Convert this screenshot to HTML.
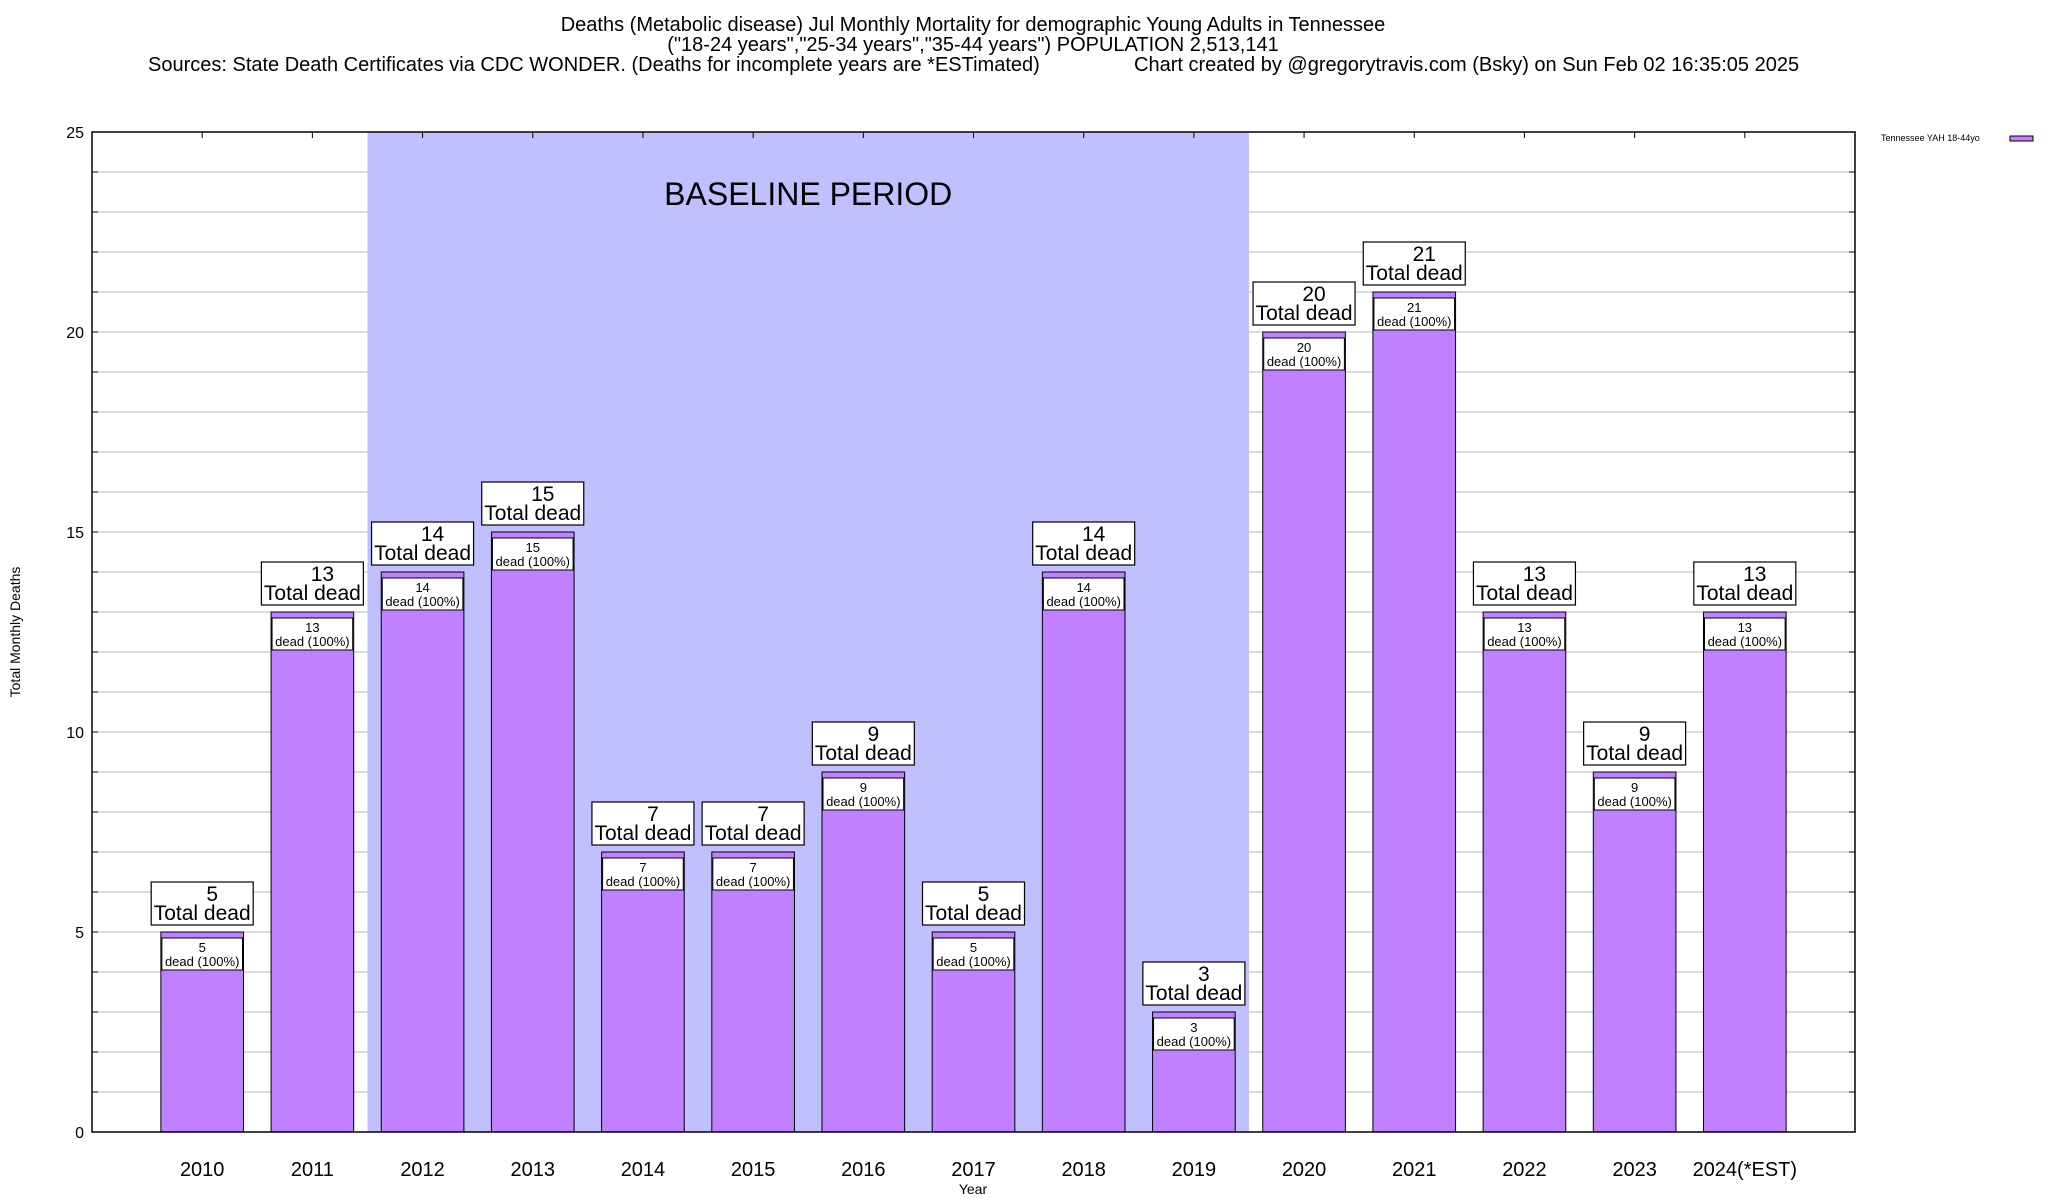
<!DOCTYPE html>
<html><head><meta charset="utf-8"><style>
html,body{margin:0;padding:0;background:#fff;}
svg{display:block;font-family:"Liberation Sans",Arial,sans-serif;}
</style></head><body>
<svg id="chart" width="2048" height="1200" viewBox="0 0 2048 1200" xmlns="http://www.w3.org/2000/svg">
<rect x="0" y="0" width="2048" height="1200" fill="#fff"/>
<g font-size="20" fill="#000">
<text x="973" y="31" text-anchor="middle">Deaths (Metabolic disease) Jul Monthly Mortality for demographic Young Adults in Tennessee</text>
<text x="973" y="51" text-anchor="middle">("18-24 years","25-34 years","35-44 years") POPULATION 2,513,141</text>
<text x="148" y="71">Sources: State Death Certificates via CDC WONDER. (Deaths for incomplete years are *ESTimated)</text>
<text x="1134" y="71">Chart created by @gregorytravis.com (Bsky) on Sun Feb 02 16:35:05 2025</text>
</g>
<g id="grid"></g>
<g id="baseline"></g>
<g id="bars"></g>
<g id="axes"></g>
<text x="20" y="632" font-size="14" text-anchor="middle" transform="rotate(-90 20 632)">Total Monthly Deaths</text>
<text x="973" y="1194" font-size="14" text-anchor="middle">Year</text>
<g>
<text x="1881" y="141" font-size="9">Tennessee YAH 18-44yo</text>
<rect x="2010" y="136" width="23" height="5" fill="#c080ff" stroke="#000" stroke-width="1"/>
</g>
</svg>
<script>
const categories = ["2010","2011","2012","2013","2014","2015","2016","2017","2018","2019","2020","2021","2022","2023","2024(*EST)"];
const deaths = [5,13,14,15,7,7,9,5,14,3,20,21,13,9,13];
const yTicks = [0,5,10,15,20,25];
const baselineRange = [1.5, 9.5];

const NS = "http://www.w3.org/2000/svg";
const L = 92, R = 1855, T = 132, B = 1132;
const xMin = -1, xMax = 15, yMin = 0, yMax = 25;
function xs(v){ return L + (v - xMin) / (xMax - xMin) * (R - L); }
function ys(v){ return B - (v - yMin) / (yMax - yMin) * (B - T); }
function mk(tag, attrs, parent){
  const e = document.createElementNS(NS, tag);
  for (const k in attrs) e.setAttribute(k, attrs[k]);
  parent.appendChild(e); return e;
}
const grid = document.getElementById('grid');
const axes = document.getElementById('axes');
const base = document.getElementById('baseline');
const bars = document.getElementById('bars');

const br = mk('rect', {x: xs(baselineRange[0]), y: T, width: xs(baselineRange[1]) - xs(baselineRange[0]), height: B - T, fill: '#c0c0ff'}, base);


const bt = mk('text', {x: (xs(baselineRange[0]) + xs(baselineRange[1])) / 2, y: 205, 'font-size': 32, 'text-anchor': 'middle'}, base);
bt.textContent = 'BASELINE PERIOD';



for (let v = yMin + 1; v < yMax; v++) {
  const g = mk('line', {x1: L, x2: R, y1: ys(v), y2: ys(v), stroke: '#b8b8b8', 'stroke-width': 1}, grid);
  
  
  mk('line', {x1: L, x2: L + 6, y1: ys(v), y2: ys(v), stroke: '#000'}, axes);
  mk('line', {x1: R, x2: R - 6, y1: ys(v), y2: ys(v), stroke: '#000'}, axes);
}
yTicks.forEach(v => {
  const t = mk('text', {x: 84, y: ys(v) + 6, 'font-size': 16, 'text-anchor': 'end'}, axes);
  t.textContent = v;
  
  
});

const bw = 0.75;
categories.forEach((c, i) => {
  const v = deaths[i];
  const x0 = xs(i - bw / 2), x1 = xs(i + bw / 2), cx = xs(i);
  const w = x1 - x0, yt = ys(v);
  const r = mk('rect', {x: x0, y: yt, width: w, height: B - yt, fill: '#c080ff', stroke: '#000', 'stroke-width': 1}, bars);
  
  
  const ib = mk('rect', {x: x0 + 1, y: yt + 6, width: w - 2, height: 32, fill: '#fff', stroke: '#000', 'stroke-width': 1}, bars);
  
  
  const t1 = mk('text', {x: cx, y: yt + 20, 'font-size': 13, 'text-anchor': 'middle'}, bars);
  t1.textContent = v;
  
  
  const t2 = mk('text', {x: cx, y: yt + 34, 'font-size': 13, 'text-anchor': 'middle'}, bars);
  t2.textContent = 'dead (100%)';
  
  
  const ob = mk('rect', {x: cx - 51, y: yt - 50, width: 102, height: 43, fill: '#fff', stroke: '#000', 'stroke-width': 1.2}, bars);
  
  
  const o1 = mk('text', {x: cx + 10, y: yt - 31, 'font-size': 21, 'text-anchor': 'middle'}, bars);
  o1.textContent = v;
  
  
  const o2 = mk('text', {x: cx, y: yt - 12, 'font-size': 21, 'text-anchor': 'middle'}, bars);
  o2.textContent = 'Total dead';
  
  
  mk('line', {x1: cx, x2: cx, y1: T, y2: T + 6, stroke: '#000'}, axes);
  const xl = mk('text', {x: cx, y: 1176, 'font-size': 20, 'text-anchor': 'middle'}, axes);
  xl.textContent = c;
  
  
});
const frame = mk('rect', {x: L, y: T, width: R - L, height: B - T, fill: 'none', stroke: '#000', 'stroke-width': 1.5}, axes);


</script>
</body></html>
